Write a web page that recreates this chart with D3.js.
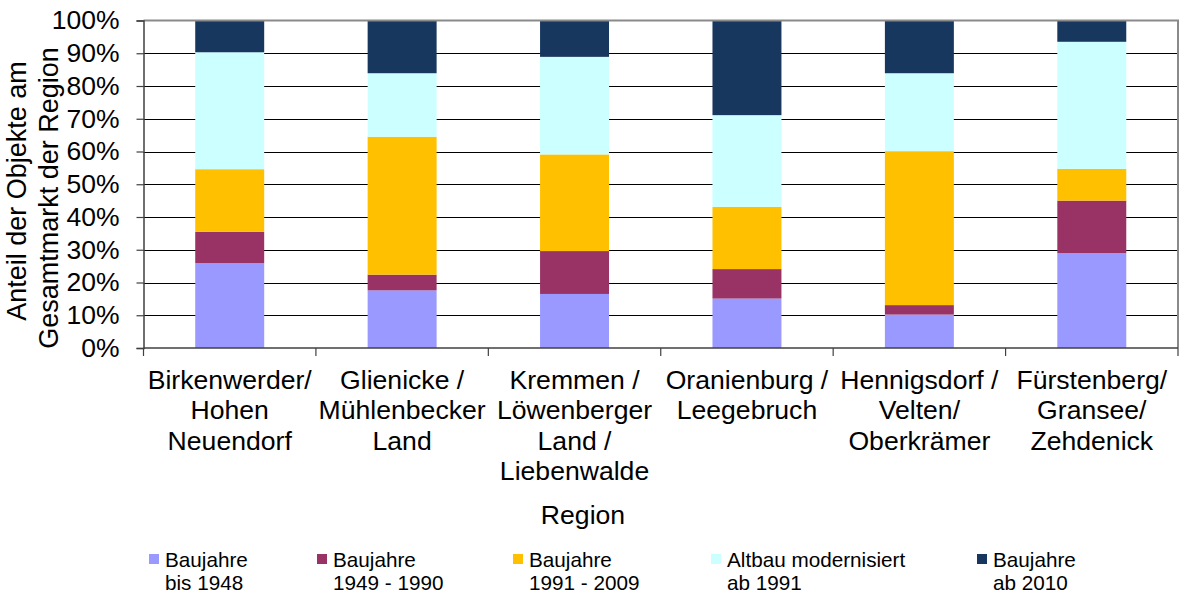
<!DOCTYPE html>
<html>
<head>
<meta charset="utf-8">
<script src="https://cdn.jsdelivr.net/npm/d3@7"></script>
<style>
  html, body { margin: 0; padding: 0; background: #fff; }
  svg { display: block; font-family: "Liberation Sans", Arial, sans-serif; }
</style>
</head>
<body>
<svg id="chart" width="1181" height="596"></svg>
<script>
// Regions (line breaks as in the axis labels)
const regions = [
  ["Birkenwerder/", "Hohen", "Neuendorf"],
  ["Glienicke /", "Mühlenbecker", "Land"],
  ["Kremmen /", "Löwenberger", "Land /", "Liebenwalde"],
  ["Oranienburg /", "Leegebruch"],
  ["Hennigsdorf /", "Velten/", "Oberkrämer"],
  ["Fürstenberg/", "Gransee/", "Zehdenick"]
];

// Share of listings per construction period (percent)
const bis1948      = [25.9, 17.6, 16.5, 15.1, 10.2, 29.0];
const bj1949_1990  = [ 9.6,  4.8, 13.1,  9.0,  2.9, 16.0];
const bj1991_2009  = [19.1, 42.1, 29.5, 19.0, 47.0,  9.7];
const altbauMod    = [35.7, 19.4, 29.8, 28.0, 23.8, 38.8];
const ab2010       = [ 9.7, 16.1, 11.1, 28.9, 16.1,  6.5];

const seriesKeys   = ["bis1948", "bj1949_1990", "bj1991_2009", "altbauMod", "ab2010"];
const seriesLabels = [
  ["Baujahre", "bis 1948"],
  ["Baujahre", "1949 - 1990"],
  ["Baujahre", "1991 - 2009"],
  ["Altbau modernisiert", "ab 1991"],
  ["Baujahre", "ab 2010"]
];
const seriesColors = ["#9999FF", "#993366", "#FFC000", "#CCFFFF", "#17375E"];

const yTicks = [0, 0.1, 0.2, 0.3, 0.4, 0.5, 0.6, 0.7, 0.8, 0.9, 1.0];

// Table for d3.stack
const catNames = regions.map(r => r.join(" "));
const seriesData = [bis1948, bj1949_1990, bj1991_2009, altbauMod, ab2010];
const table = catNames.map((name, i) => {
  const row = { region: name };
  seriesKeys.forEach((k, j) => row[k] = seriesData[j][i]);
  return row;
});

const svg = d3.select("#chart");
const plot = { left: 143.5, right: 1178, top: 20.5, bottom: 348 };

const x = d3.scaleBand()
  .domain(catNames)
  .range([plot.left, plot.right])
  .paddingInner(0.6)
  .paddingOuter(0.3);

const y = d3.scaleLinear()
  .domain([0, 1])
  .range([plot.bottom, plot.top]);

const stacked = d3.stack()
  .keys(seriesKeys)
  .offset(d3.stackOffsetExpand)(table);

// Horizontal gridlines
svg.append("g")
  .selectAll("line")
  .data(yTicks.filter(t => t > 0 && t < 1))
  .join("line")
  .attr("x1", plot.left)
  .attr("x2", plot.right)
  .attr("y1", d => Math.round(y(d)) + 0.5)
  .attr("y2", d => Math.round(y(d)) + 0.5)
  .attr("stroke", "#000")
  .attr("stroke-width", 1.2);

// Stacked bars
svg.append("g")
  .selectAll("g")
  .data(stacked)
  .join("g")
  .attr("fill", (d, i) => seriesColors[i])
  .selectAll("rect")
  .data(d => d)
  .join("rect")
  .attr("x", d => x(d.data.region))
  .attr("width", x.bandwidth())
  .attr("y", d => y(d[1]))
  .attr("height", d => y(d[0]) - y(d[1]));

// Plot area frame: grey top and right edges
svg.append("line")
  .attr("x1", plot.left).attr("x2", plot.right + 1)
  .attr("y1", plot.top).attr("y2", plot.top)
  .attr("stroke", "#8a8a8a").attr("stroke-width", 2);
svg.append("line")
  .attr("x1", plot.right).attr("x2", plot.right)
  .attr("y1", plot.top).attr("y2", plot.bottom)
  .attr("stroke", "#8a8a8a").attr("stroke-width", 2);

// Y axis
const yAxis = d3.axisLeft(y)
  .tickValues(yTicks)
  .tickFormat(d3.format(".0%"))
  .tickSize(7)
  .tickPadding(17);
const gy = svg.append("g")
  .attr("transform", `translate(${plot.left},0)`)
  .call(yAxis);
gy.select(".domain").attr("stroke", "#404040").attr("stroke-width", 1.5);
gy.selectAll(".tick line").attr("stroke", "#404040").attr("stroke-width", 1.2);
gy.selectAll(".tick text")
  .attr("font-family", "Liberation Sans, Arial, sans-serif")
  .attr("font-size", 26.5)
  .attr("fill", "#000");

// X axis line and tick marks at the category boundaries
const step = x.step();
const boundaries = d3.range(catNames.length + 1).map(i => plot.left + i * step);
svg.append("line")
  .attr("x1", plot.left).attr("x2", plot.right)
  .attr("y1", plot.bottom).attr("y2", plot.bottom)
  .attr("stroke", "#404040").attr("stroke-width", 1.5);
svg.append("g")
  .selectAll("line")
  .data(boundaries)
  .join("line")
  .attr("x1", d => d).attr("x2", d => d)
  .attr("y1", plot.bottom).attr("y2", plot.bottom + 8)
  .attr("stroke", "#404040").attr("stroke-width", 1.2);

// Category labels
const catLabels = svg.append("g")
  .attr("font-size", 26.6)
  .attr("text-anchor", "middle")
  .attr("fill", "#000");
regions.forEach((lines, i) => {
  const cx = x(catNames[i]) + x.bandwidth() / 2;
  const t = catLabels.append("text").attr("x", cx).attr("y", 389);
  lines.forEach((ln, j) => {
    t.append("tspan").attr("x", cx).attr("y", 389 + j * 30.3).text(ln);
  });
});

// Axis titles
svg.append("text")
  .attr("x", 583).attr("y", 524)
  .attr("font-size", 26.6)
  .attr("text-anchor", "middle")
  .text("Region");

const yTitle = ["Anteil der Objekte am", "Gesamtmarkt der Region"];
const yTitleCenter = [191, 198];
yTitle.forEach((ln, j) => {
  svg.append("text")
    .attr("transform", `translate(${25.5 + j * 32},${yTitleCenter[j]}) rotate(-90)`)
    .attr("font-size", 27)
    .attr("text-anchor", "middle")
    .text(ln);
});

// Legend
const legendX = [149, 317, 513, 711, 977];
const legend = svg.append("g").attr("font-size", 20.7).attr("fill", "#000");
seriesKeys.forEach((k, i) => {
  legend.append("rect")
    .attr("x", legendX[i]).attr("y", 554)
    .attr("width", 10).attr("height", 10)
    .attr("fill", seriesColors[i]);
  const t = legend.append("text").attr("x", legendX[i] + 16).attr("y", 567);
  seriesLabels[i].forEach((ln, j) => {
    t.append("tspan").attr("x", legendX[i] + 16).attr("y", 567 + j * 23).text(ln);
  });
});
</script>
</body>
</html>
